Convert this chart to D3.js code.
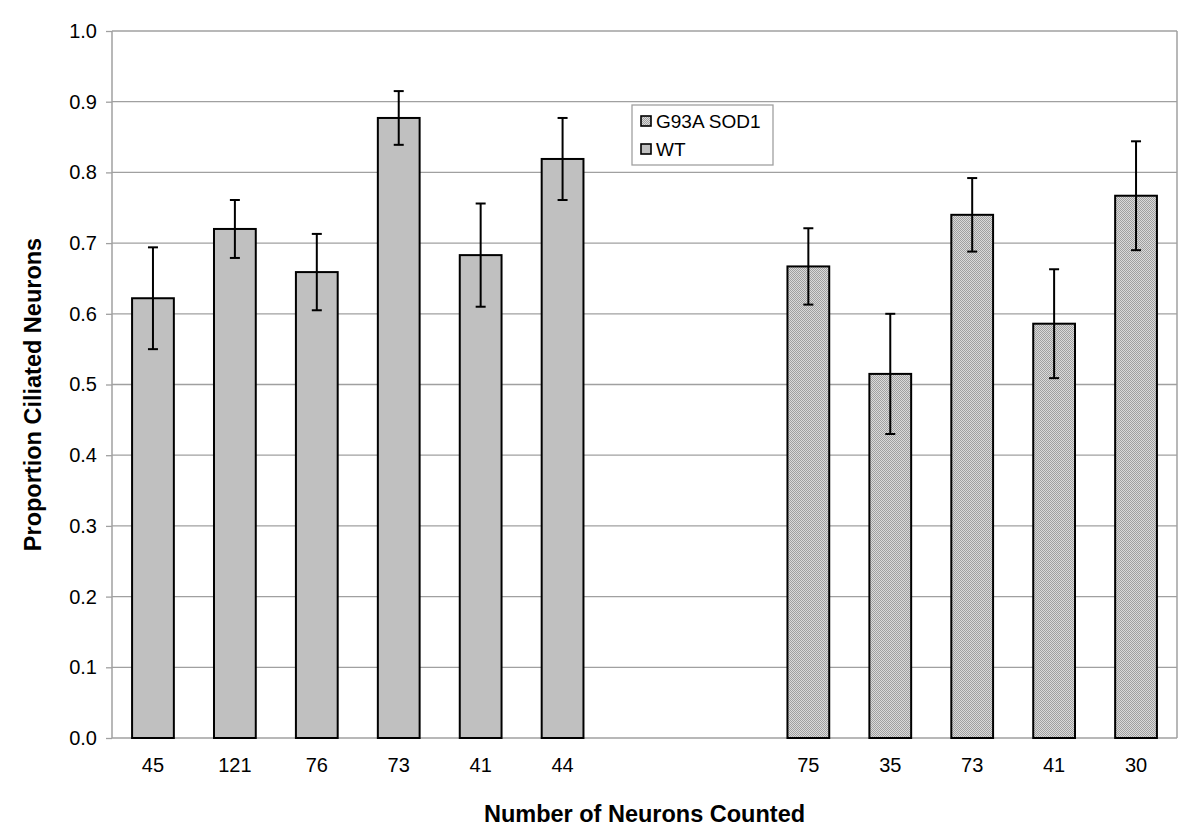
<!DOCTYPE html>
<html><head><meta charset="utf-8">
<script src="https://cdn.jsdelivr.net/npm/d3@7/dist/d3.min.js"></script>
<style>body{margin:0;background:#fff}svg{display:block}text{font-family:"Liberation Sans",Arial,sans-serif}</style>
</head><body><svg id="c" width="1200" height="840"></svg>
<script>
const slots = ["wt0","wt1","wt2","wt3","wt4","wt5","gap0","gap1","g0","g1","g2","g3","g4"];
const wtLabels = ["45","121","76","73","41","44"];
const wtValues = [0.622,0.720,0.659,0.877,0.683,0.819];
const wtErrors = [0.072,0.041,0.054,0.038,0.073,0.058];
const gLabels = ["75","35","73","41","30"];
const gValues = [0.667,0.515,0.740,0.586,0.767];
const gErrors = [0.054,0.085,0.052,0.077,0.077];
const yTicks = [0,0.1,0.2,0.3,0.4,0.5,0.6,0.7,0.8,0.9,1.0];
const seriesNames = ["G93A SOD1","WT"];

const bars = [
  ...wtValues.map((v,i)=>({slot:slots[i],label:wtLabels[i],v,e:wtErrors[i],s:"WT"})),
  ...gValues.map((v,i)=>({slot:slots[8+i],label:gLabels[i],v,e:gErrors[i],s:"G93A SOD1"}))
];

const svg = d3.select("#c");
const L=112,R=1177,T=31,B=738;
const x = d3.scaleBand().domain(slots).range([L,R]).paddingInner(0.49).paddingOuter(0.245);
const y = d3.scaleLinear().domain([0,1]).range([B,T]);

const defs = svg.append("defs");
const pat = defs.append("pattern").attr("id","hatch").attr("patternUnits","userSpaceOnUse").attr("width",2).attr("height",2);
pat.append("rect").attr("width",2).attr("height",2).attr("fill","#dadada");
pat.append("rect").attr("x",0).attr("y",0).attr("width",1).attr("height",1).attr("fill","#a0a0a0");
pat.append("rect").attr("x",1).attr("y",1).attr("width",1).attr("height",1).attr("fill","#a0a0a0");
const fillOf = s => s==="WT" ? "#c0c0c0" : "url(#hatch)";

// gridlines
svg.append("g").selectAll("line").data(yTicks).join("line")
  .attr("x1",L).attr("x2",R).attr("y1",d=>y(d)).attr("y2",d=>y(d))
  .attr("stroke","#a0a0a0").attr("stroke-width",1.3);
// frame sides
svg.append("line").attr("x1",L).attr("x2",L).attr("y1",T).attr("y2",B).attr("stroke","#a0a0a0").attr("stroke-width",1.5);
svg.append("line").attr("x1",R).attr("x2",R).attr("y1",T).attr("y2",B).attr("stroke","#a0a0a0").attr("stroke-width",1.5);

// y axis
const ya = svg.append("g").attr("transform",`translate(${L},0)`)
  .call(d3.axisLeft(y).tickValues(yTicks).tickFormat(d3.format(".1f")).tickSize(6).tickPadding(9));
ya.select(".domain").remove();
ya.selectAll(".tick line").attr("stroke","#a0a0a0").attr("stroke-width",1.3);
ya.selectAll(".tick text").attr("font-size",20).attr("fill","#000").style("font-family","'Liberation Sans',Arial,sans-serif");

// x labels
const xa = svg.append("g").attr("transform",`translate(0,${B})`)
  .call(d3.axisBottom(x).tickValues(bars.map(b=>b.slot)).tickFormat(s=>bars.find(b=>b.slot===s).label).tickSize(0).tickPadding(20));
xa.select(".domain").remove();
xa.selectAll(".tick text").attr("font-size",20).attr("fill","#000").style("font-family","'Liberation Sans',Arial,sans-serif");

// bars
svg.append("g").selectAll("rect").data(bars).join("rect")
  .attr("x",d=>x(d.slot)).attr("width",x.bandwidth())
  .attr("y",d=>y(d.v)).attr("height",d=>y(0)-y(d.v))
  .attr("fill",d=>fillOf(d.s)).attr("stroke","#000").attr("stroke-width",2);

// error bars
const eg = svg.append("g").attr("stroke","#000").attr("stroke-width",2);
bars.forEach(d=>{
  const cx = x(d.slot)+x.bandwidth()/2;
  eg.append("line").attr("x1",cx).attr("x2",cx).attr("y1",y(d.v+d.e)).attr("y2",y(d.v-d.e));
  eg.append("line").attr("x1",cx-5).attr("x2",cx+5).attr("y1",y(d.v+d.e)).attr("y2",y(d.v+d.e));
  eg.append("line").attr("x1",cx-5).attr("x2",cx+5).attr("y1",y(d.v-d.e)).attr("y2",y(d.v-d.e));
});

// legend
const lg = svg.append("g").attr("transform","translate(632,105)");
lg.append("rect").attr("width",141).attr("height",60).attr("fill","#fff").attr("stroke","#a0a0a0").attr("stroke-width",1.3);
seriesNames.forEach((n,i)=>{
  const yy = 16 + i*28;
  lg.append("rect").attr("x",9).attr("y",yy-5).attr("width",10).attr("height",10).attr("fill",fillOf(n)).attr("stroke","#000").attr("stroke-width",1.6);
  lg.append("text").attr("x",24).attr("y",yy+7).attr("font-size",19).text(n);
});

// axis titles
svg.append("text").attr("x",(L+R)/2).attr("y",822).attr("text-anchor","middle").attr("font-size",23.5).attr("font-weight","bold").text("Number of Neurons Counted");
svg.append("text").attr("transform",`translate(41,${(T+B)/2+10}) rotate(-90)`).attr("text-anchor","middle").attr("font-size",23.5).attr("font-weight","bold").text("Proportion Ciliated Neurons");
</script></body></html>
